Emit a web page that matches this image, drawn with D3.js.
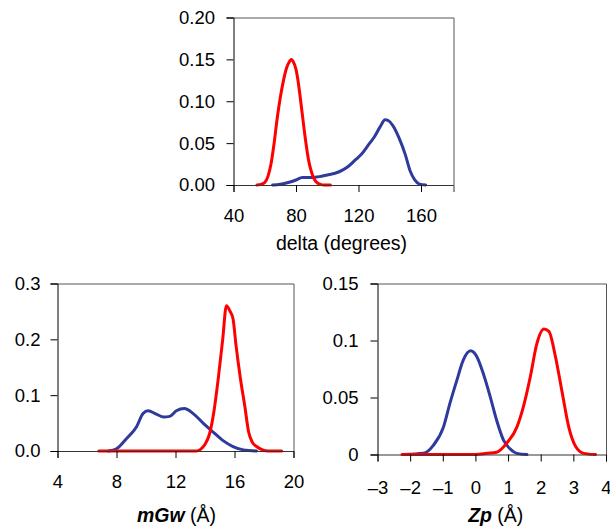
<!DOCTYPE html>
<html>
<head>
<meta charset="utf-8">
<script src="https://cdn.jsdelivr.net/npm/d3@7"></script>
<style>
  body { margin: 0; background: #fff; }
  text { font-family: "Liberation Sans", Arial, sans-serif; }
  .line { fill: none; stroke-width: 3px; stroke-linejoin: round; stroke-linecap: round; }
  .frame { fill: none; stroke: #555; stroke-width: 1px; }
</style>
</head>
<body>
<div id="chart"></div>
<script>
// delta (degrees) panel
var deltaRedX = [55, 58, 60, 62, 64, 66, 68, 70, 72, 74, 76, 77, 78, 80, 81, 82, 84, 86, 88, 90, 92, 94, 96, 98, 102];
var deltaRedY = [0, 0.001, 0.003, 0.01, 0.025, 0.05, 0.08, 0.105, 0.125, 0.14, 0.148, 0.15, 0.148, 0.138, 0.128, 0.115, 0.085, 0.055, 0.03, 0.015, 0.006, 0.002, 0.0005, 0, 0];
var deltaBlueX = [65, 70, 75, 80, 84, 90, 95, 100, 105, 110, 114, 118, 122, 126, 130, 134, 137, 139, 142, 146, 150, 153, 156, 159, 163];
var deltaBlueY = [0, 0.001, 0.003, 0.006, 0.009, 0.009, 0.01, 0.012, 0.014, 0.018, 0.023, 0.03, 0.037, 0.047, 0.057, 0.07, 0.078, 0.077, 0.071, 0.056, 0.036, 0.017, 0.006, 0.001, 0];
var deltaXTicks = [40, 80, 120, 160];
var deltaYTicks = [0, 0.05, 0.10, 0.15, 0.20];

// mGw panel
var mgwRedX = [6.8, 8, 10, 12, 13.4, 13.7, 14.0, 14.3, 14.6, 14.9, 15.2, 15.45, 15.7, 15.9, 16.1, 16.4, 16.7, 16.95, 17.2, 17.5, 17.9, 18.3, 19.2];
var mgwRedY = [0, 0, 0, 0, 0, 0.003, 0.012, 0.03, 0.07, 0.13, 0.2, 0.26, 0.25, 0.237, 0.19, 0.13, 0.08, 0.035, 0.016, 0.008, 0.002, 0, 0];
var mgwBlueX = [7.46, 8.0, 8.67, 9.35, 9.8, 10.14, 10.7, 11.2, 11.6, 12.06, 12.6, 13.2, 13.87, 14.55, 15.2, 15.9, 16.6, 17.5];
var mgwBlueY = [0, 0.004, 0.022, 0.043, 0.067, 0.072, 0.066, 0.061, 0.062, 0.072, 0.076, 0.067, 0.05, 0.034, 0.019, 0.008, 0.002, 0];
var mgwXTicks = [4, 8, 12, 16, 20];
var mgwYTicks = [0, 0.1, 0.2, 0.3];

// Zp panel
var zpBlueX = [-2.2, -1.59, -1.29, -0.98, -0.78, -0.57, -0.37, -0.15, 0.04, 0.24, 0.45, 0.65, 0.86, 1.06, 1.27, 1.58];
var zpBlueY = [0, 0.001, 0.008, 0.024, 0.045, 0.065, 0.083, 0.091, 0.086, 0.071, 0.051, 0.03, 0.0126, 0.005, 0.001, 0];
var zpRedX = [-2.25, -1, 0, 0.35, 0.65, 0.96, 1.27, 1.47, 1.68, 1.88, 2.1, 2.25, 2.45, 2.66, 2.86, 3.07, 3.32, 3.68];
var zpRedY = [0, 0, 0, 0.001, 0.002, 0.01, 0.024, 0.042, 0.068, 0.097, 0.11, 0.108, 0.086, 0.054, 0.024, 0.007, 0.001, 0];
var zpXTicks = [-3, -2, -1, 0, 1, 2, 3, 4];
var zpYTicks = [0, 0.05, 0.1, 0.15];

var red = "#ff0000",
    blue = "#2e3a9c";

var svg = d3.select("#chart").append("svg")
    .attr("width", 610)
    .attr("height", 528);

function toPoints(xs, ys) {
  return xs.map(function(x, i) { return {x: x, y: ys[i]}; });
}

function drawPanel(p) {
  var width = p.right - p.left,
      height = p.bottom - p.top;

  var x = d3.scaleLinear().domain(p.xDomain).range([0, width]);
  var y = d3.scaleLinear().domain(p.yDomain).range([height, 0]);

  var g = svg.append("g")
      .attr("transform", "translate(" + p.left + "," + p.top + ")");

  // frame (top and right)
  g.append("path")
      .attr("class", "frame")
      .attr("d", "M0,0.5H" + (width + 0.5) + "V" + height);

  var line = d3.line()
      .x(function(d) { return x(d.x); })
      .y(function(d) { return y(d.y); })
      .curve(d3.curveMonotoneX);

  p.series.forEach(function(s) {
    g.append("path")
        .datum(toPoints(s.x, s.y))
        .attr("class", "line")
        .attr("stroke", s.color)
        .attr("d", line);
  });

  // x axis
  var xAxis = g.append("g")
      .attr("transform", "translate(0," + height + ")")
      .call(d3.axisBottom(x).tickValues(p.xTicks).tickSize(7).tickPadding(p.xPad)
        .tickFormat(function(d) { return d < 0 ? "\u2013" + Math.abs(d) : d; }));
  xAxis.selectAll("text").style("font-size", "18.5px").attr("fill", "#000");
  xAxis.select(".domain").attr("stroke", "#333");

  // y axis
  var yAxis = g.append("g")
      .call(d3.axisLeft(y).tickValues(p.yTicks).tickSize(7).tickPadding(p.yPad)
        .tickFormat(d3.format(p.yFormat)));
  yAxis.selectAll("text").style("font-size", "18.5px").attr("fill", "#000");
  yAxis.select(".domain").attr("stroke", "#000");

  // axis title
  var t = g.append("text")
      .attr("x", width / 2 + p.titleDx)
      .attr("y", p.titleY - p.top)
      .attr("text-anchor", "middle")
      .style("font-size", p.titleSize + "px");
  p.title.forEach(function(part) {
    t.append("tspan")
        .style("font-weight", part.bold ? "bold" : "normal")
        .style("font-style", part.bold ? "italic" : "normal")
        .text(part.text);
  });
}

drawPanel({
  left: 233.5, right: 453.5, top: 17.5, bottom: 185,
  xDomain: [40, 180.8], yDomain: [0, 0.20],
  xTicks: deltaXTicks, yTicks: deltaYTicks, yFormat: ".2f",
  xPad: 17, yPad: 11.5,
  series: [
    {x: deltaBlueX, y: deltaBlueY, color: blue},
    {x: deltaRedX, y: deltaRedY, color: red}
  ],
  title: [{text: "delta (degrees)"}], titleY: 250, titleSize: 19.5, titleDx: -2
});

drawPanel({
  left: 57.5, right: 293.5, top: 283.5, bottom: 451,
  xDomain: [4, 20], yDomain: [0, 0.3],
  xTicks: mgwXTicks, yTicks: mgwYTicks, yFormat: ".1f",
  xPad: 17, yPad: 10,
  series: [
    {x: mgwBlueX, y: mgwBlueY, color: blue},
    {x: mgwRedX, y: mgwRedY, color: red}
  ],
  title: [{text: "mGw", bold: true}, {text: " (\u00c5)"}], titleY: 522, titleSize: 19.5, titleDx: 1
});

drawPanel({
  left: 377.5, right: 606, top: 283.5, bottom: 454.5,
  xDomain: [-3, 4], yDomain: [0, 0.15],
  xTicks: zpXTicks, yTicks: zpYTicks, yFormat: "",
  xPad: 19, yPad: 12,
  series: [
    {x: zpBlueX, y: zpBlueY, color: blue},
    {x: zpRedX, y: zpRedY, color: red}
  ],
  title: [{text: "Zp", bold: true}, {text: " (\u00c5)"}], titleY: 522, titleSize: 19.5, titleDx: 4
});
</script>
</body>
</html>
